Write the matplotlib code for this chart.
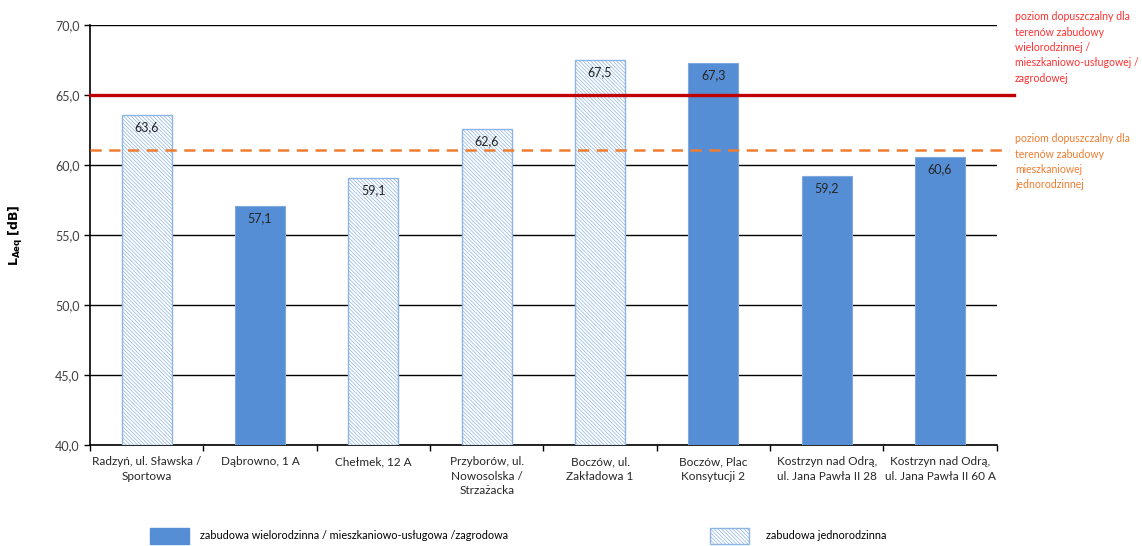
import matplotlib
matplotlib.use("Agg")
import matplotlib.pyplot as plt
from matplotlib.patches import Patch

plt.rcParams['font.family'] = ['Lato', 'DejaVu Sans']
plt.rcParams['hatch.linewidth'] = 0.5

categories = [
    "Radzyń, ul. Sławska /\nSportowa",
    "Dąbrowno, 1 A",
    "Chełmek, 12 A",
    "Przyborów, ul.\nNowosolska /\nStrzażacka",
    "Boczów, ul.\nZakładowa 1",
    "Boczów, Plac\nKonsytucji 2",
    "Kostrzyn nad Odrą,\nul. Jana Pawła II 28",
    "Kostrzyn nad Odrą,\nul. Jana Pawła II 60 A",
]
values = [63.6, 57.1, 59.1, 62.6, 67.5, 67.3, 59.2, 60.6]
single_family = [True, False, True, True, True, False, False, False]

limit_multi = 65.0
limit_single = 61.1
limit_multi_text = "poziom dopuszczalny dla\nterenów zabudowy\nwielorodzinnej /\nmieszkaniowo-usługowej /\nzagrodowej"
limit_single_text = "poziom dopuszczalny dla\nterenów zabudowy\nmieszkaniowej\njednorodzinnej"
legend_multi = "zabudowa wielorodzinna / mieszkaniowo-usługowa /zagrodowa"
legend_single = "zabudowa jednorodzinna"

solid_color = "#558ED5"
hatch_color = "#8DB4E2"
red = "#C00000"
orange = "#ED7D31"
hatch_pattern = "\\" * 9

fig = plt.figure(figsize=(11.42, 5.46), dpi=100)
ax = fig.add_axes([0.0788, 0.185, 0.794, 0.769])

x = list(range(len(values)))
for xi, v, sf in zip(x, values, single_family):
    if sf:
        ax.bar(xi, v - 40, bottom=40, width=0.44, facecolor="white",
               edgecolor=hatch_color, hatch=hatch_pattern, linewidth=1.0, zorder=3)
    else:
        ax.bar(xi, v - 40, bottom=40, width=0.44, facecolor=solid_color,
               edgecolor="#7FA8DD", linewidth=0.8, zorder=3)
    ax.text(xi, v - 0.45, f"{v:.1f}".replace(".", ","), ha="center", va="top",
            fontsize=9, color="#262626", zorder=5)

ax.set_xlim(-0.5, len(values) - 0.5)
ax.set_ylim(40, 70)
yticks = [40, 45, 50, 55, 60, 65, 70]
ax.set_yticks(yticks)
ax.set_yticklabels([f"{t:.1f}".replace(".", ",") for t in yticks],
                   fontsize=9, color="#404040")
ax.yaxis.grid(True, color="black", linewidth=1.0, zorder=0)
ax.set_axisbelow(True)

ax.set_xticks(x)
ax.set_xticklabels(categories, fontsize=8.5, color="#262626", linespacing=1.4)
ax.set_xticks([i + 0.5 for i in range(-1, len(values))], minor=True)
ax.tick_params(axis="x", which="major", length=0, pad=8)
ax.tick_params(axis="x", which="minor", length=4, direction="out", width=1)
ax.tick_params(axis="y", length=4, direction="out", width=1)

for s in ["top", "right"]:
    ax.spines[s].set_visible(False)
ax.spines["left"].set_linewidth(1.2)
ax.spines["bottom"].set_linewidth(1.2)

ax.set_ylabel(r"$\mathbf{L_{Aeq}}$ $\mathbf{[dB]}$", fontsize=9)
ax.yaxis.set_label_coords(-0.072, 0.5)

# limit lines, running a little past the plot edge
ax.plot([-0.5, len(values) - 0.5 + 0.15], [limit_multi, limit_multi], color=red,
        linewidth=2.4, clip_on=False, zorder=4)
ax.plot([-0.5, len(values) - 0.5 + 0.11], [limit_single, limit_single], color=orange,
        linewidth=1.8, linestyle=(0, (4.5, 3)), clip_on=False, zorder=4)

fig.text(1015 / 1142, 1 - 11 / 546, limit_multi_text, ha="left", va="top",
         fontsize=7.6, color="#FF3030", linespacing=1.5)
fig.text(1015 / 1142, 1 - 133 / 546, limit_single_text, ha="left", va="top",
         fontsize=7.6, color=orange, linespacing=1.5)

h_multi = Patch(facecolor=solid_color, edgecolor=solid_color)
h_single = Patch(facecolor="white", edgecolor=hatch_color, hatch=hatch_pattern)
fig.legend([h_multi], [legend_multi], loc="center left",
           bbox_to_anchor=(140 / 1142, 1 - 536 / 546), frameon=False,
           fontsize=7.8, handlelength=3.6, handleheight=1.9, handletextpad=1.0)
fig.legend([h_single], [legend_single], loc="center left",
           bbox_to_anchor=(700 / 1142, 1 - 536 / 546), frameon=False,
           fontsize=7.8, handlelength=3.6, handleheight=1.9, handletextpad=1.6)

fig.savefig("out.png", dpi=100)
